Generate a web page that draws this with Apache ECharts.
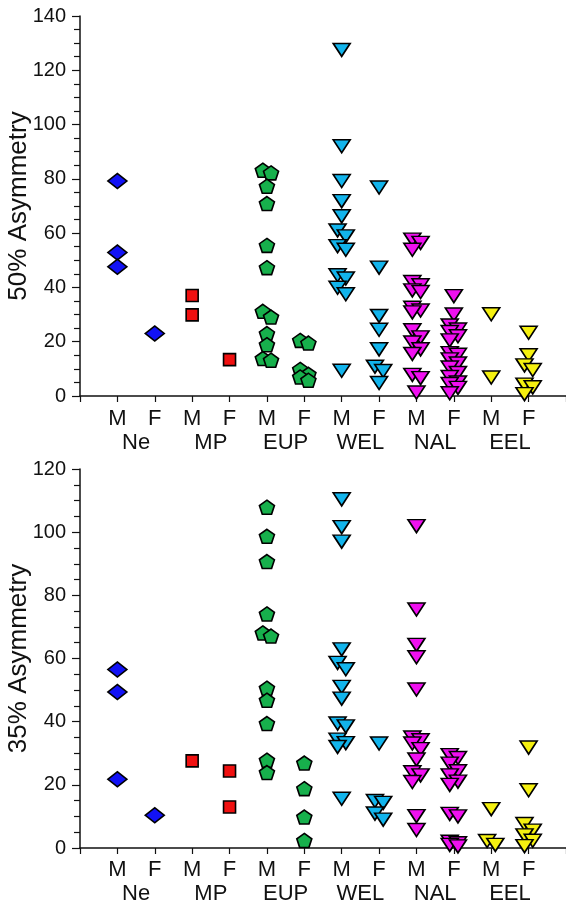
<!DOCTYPE html>
<html>
<head>
<meta charset="utf-8">
<script src="https://cdn.jsdelivr.net/npm/echarts@6/dist/echarts.min.js"></script>
<style>html,body{margin:0;padding:0;background:#fff}#c{width:566px;height:904px}</style>
</head>
<body>
<div id="c"></div>
<script>
// ---- categories / labels ----
const groups = ['Ne', 'MP', 'EUP', 'WEL', 'NAL', 'EEL'];
const sexes = ['M', 'F'];
const yName50 = '50% Asymmetry';
const yName35 = '35% Asymmetry';
const yMax50 = 140, yMax35 = 120, yStep = 20;

// ---- 50% asymmetry (top panel) ----
const a50_Ne_M = [79.2, 52.9, 47.6];
const a50_Ne_F = [23.0];
const a50_MP_M = [37.0, 29.9];
const a50_MP_F = [13.4];
const a50_EUP_M = [83.2, 82.2, 77.3, 70.9, 55.5, 47.3, 31.2, 29.1, 23.0, 18.9, 13.8, 13.2];
const a50_EUP_F = [20.5, 19.5, 9.8, 8.0, 7.0, 5.8];
const a50_WEL_M = [127.5, 92.0, 79.2, 71.8, 66.2, 61.0, 58.8, 55.2, 53.9, 44.5, 43.3, 39.9, 37.5, 9.3];
const a50_WEL_F = [76.8, 47.3, 29.5, 24.4, 17.2, 10.8, 9.2, 4.8];
const a50_NAL_M = [57.6, 56.4, 53.9, 42.0, 40.8, 38.9, 38.3, 32.5, 31.5, 30.8, 24.2, 21.6, 19.7, 17.2, 15.5, 7.8, 6.6, 1.3];
const a50_NAL_F = [36.8, 30.0, 26.0, 24.5, 23.6, 22.0, 20.5, 15.8, 15.2, 13.5, 12.0, 10.5, 8.5, 7.0, 5.0, 4.4, 3.0, 1.0];
const a50_EEL_M = [30.1, 6.8];
const a50_EEL_F = [23.3, 15.0, 11.3, 9.6, 4.2, 3.2, 0.7];

// ---- 35% asymmetry (bottom panel) ----
const a35_Ne_M = [56.5, 49.4, 21.8];
const a35_Ne_F = [10.4];
const a35_MP_M = [27.6];
const a35_MP_F = [24.4, 13.0];
const a35_EUP_M = [107.9, 98.7, 90.7, 74.1, 68.1, 67.1, 50.6, 46.8, 39.4, 27.8, 23.9];
const a35_EUP_F = [26.9, 18.8, 9.8, 2.4];
const a35_WEL_M = [110.4, 101.6, 97.0, 62.9, 58.6, 56.6, 51.0, 47.3, 39.4, 38.5, 34.3, 33.2, 32.0, 15.6];
const a35_WEL_F = [33.1, 14.9, 14.3, 10.9, 9.0];
const a35_NAL_M = [101.9, 75.5, 64.3, 60.4, 50.2, 35.0, 34.1, 33.1, 31.3, 28.0, 24.0, 23.0, 20.9, 10.1, 5.7];
const a35_NAL_F = [29.4, 28.5, 26.7, 24.3, 23.0, 21.0, 20.0, 10.8, 10.0, 2.0, 1.5, 1.0, 0.5];
const a35_EEL_M = [12.3, 2.2, 1.0];
const a35_EEL_F = [31.8, 18.3, 7.6, 5.5, 4.0, 2.3, 0.6];

const top50 = [[a50_Ne_M, a50_Ne_F], [a50_MP_M, a50_MP_F], [a50_EUP_M, a50_EUP_F],
               [a50_WEL_M, a50_WEL_F], [a50_NAL_M, a50_NAL_F], [a50_EEL_M, a50_EEL_F]];
const bot35 = [[a35_Ne_M, a35_Ne_F], [a35_MP_M, a35_MP_F], [a35_EUP_M, a35_EUP_F],
               [a35_WEL_M, a35_WEL_F], [a35_NAL_M, a35_NAL_F], [a35_EEL_M, a35_EEL_F]];

// ---- layout / style ----
const GL = 80, GW = 486;
const grids = [
  {left: GL, top: 16, width: GW, height: 380, containLabel: false, outerBoundsMode: 'none'},
  {left: GL, top: 469, width: GW, height: 379, containLabel: false, outerBoundsMode: 'none'}
];
const symbols = [
  {symbol: 'diamond', size: [19, 15], color: '#1212f5'},
  {symbol: 'rect', size: 12, color: '#f01010'},
  {symbol: 'path://M0,-1 L0.951,-0.309 L0.588,0.809 L-0.588,0.809 L-0.951,-0.309 Z', size: [15, 14], color: '#17b04c'},
  {symbol: 'triangle', size: [17, 13], color: '#12b4ec', rotate: 180},
  {symbol: 'triangle', size: [17, 13], color: '#f010f0', rotate: 180},
  {symbol: 'triangle', size: [17, 13], color: '#f5f010', rotate: 180}
];
const nCat = groups.length * 2 + 1;

// deterministic side-by-side dodge for overlapping points
function dodge(values, base, pxPerUnit) {
  const sorted = values.slice().sort((a, b) => b - a);
  const pts = [];
  const d = 0.11, thr = 10;
  let last = null;
  sorted.forEach(v => {
    let off = 0;
    if (last && (last.v - v) * pxPerUnit < thr) {
      if (last.off === 0) { last.off = -d; off = d; }
      else off = last.off > 0 ? -d : d;
    }
    const p = {v: v, off: off};
    pts.push(p); last = p;
  });
  return pts.map(p => [base + p.off, p.v]);
}

function buildSeries(panel, gi, yMax, grid) {
  const ppu = grid.height / yMax;
  return panel.map((pair, i) => {
    const st = symbols[i];
    const data = dodge(pair[0], 2 * i + 1, ppu).concat(dodge(pair[1], 2 * i + 2, ppu));
    return {
      type: 'scatter', xAxisIndex: gi * 2, yAxisIndex: gi, data: data,
      symbol: st.symbol, symbolSize: st.size, symbolRotate: st.rotate || 0,
      itemStyle: {color: st.color, borderColor: '#000', borderWidth: 1.6, opacity: 1},
      emphasis: {disabled: true}, animation: false, z: 3
    };
  });
}

const lineStyle = {color: '#111', width: 1.5};
function xAxes(gi, m1, m2) {
  return [{
    type: 'value', gridIndex: gi, min: 0, max: nCat, interval: 1,
    axisLine: {show: true, lineStyle: lineStyle},
    axisTick: {show: true, length: 6, inside: false, lineStyle: {color: '#111', width: 1.2}},
    splitLine: {show: false},
    axisLabel: {
      margin: m1, fontSize: 22, color: '#111', fontFamily: 'Liberation Sans, Arial, sans-serif',
      formatter: v => (v >= 1 && v <= groups.length * 2) ? sexes[(v - 1) % 2] : ''
    }
  }, {
    type: 'value', gridIndex: gi, min: 0, max: nCat, position: 'bottom',
    axisLine: {show: false}, axisTick: {show: false}, splitLine: {show: false},
    axisLabel: {
      margin: m2, fontSize: 22, color: '#111', fontFamily: 'Liberation Sans, Arial, sans-serif',
      customValues: groups.map((g, i) => 2 * i + 1.5),
      formatter: v => { const k = Math.round((v - 1.5) / 2); return groups[k] || ''; }
    }
  }];
}
function yAxis(gi, max, name) {
  return {
    type: 'value', gridIndex: gi, min: 0, max: max, interval: yStep,
    name: name, nameLocation: 'middle', nameGap: 48, nameRotate: 90, nameMoveOverlap: false,
    nameTextStyle: {fontSize: 26, color: '#111', fontFamily: 'Liberation Sans, Arial, sans-serif'},
    axisLine: {show: true, lineStyle: lineStyle},
    axisTick: {show: true, length: 8, inside: false, lineStyle: {color: '#111', width: 1.2}},
    minorTick: {show: true, splitNumber: 4, length: 6, lineStyle: {color: '#111', width: 1.2}},
    splitLine: {show: false}, minorSplitLine: {show: false},
    axisLabel: {margin: 14, fontSize: 20, color: '#111',
      fontFamily: 'Liberation Sans Narrow, Arial Narrow, Liberation Sans, sans-serif'}
  };
}

const chart = echarts.init(document.getElementById('c'), null, {renderer: 'canvas'});
chart.setOption({
  animation: false,
  backgroundColor: '#ffffff',
  grid: grids,
  xAxis: xAxes(0, 12, 36).concat(xAxes(1, 11, 35)),
  yAxis: [yAxis(0, yMax50, yName50), yAxis(1, yMax35, yName35)],
  series: buildSeries(top50, 0, yMax50, grids[0]).concat(buildSeries(bot35, 1, yMax35, grids[1]))
});
</script>
</body>
</html>
